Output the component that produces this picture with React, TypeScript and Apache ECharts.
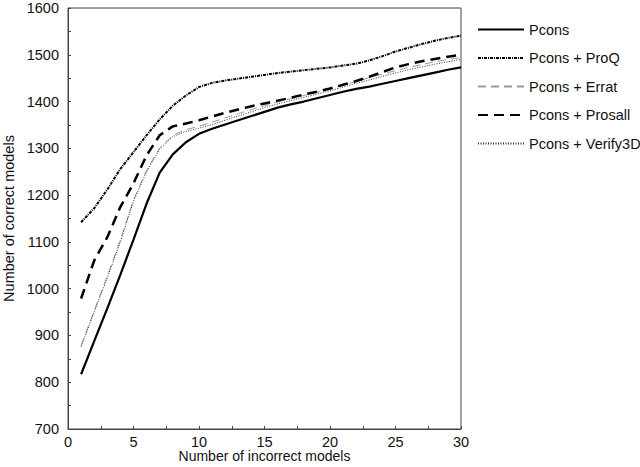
import React, { useEffect, useRef } from "react";
import * as echarts from "echarts";

const xValues = [1,2,3,4,5,6,7,8,9,10,11,12,13,14,15,16,17,18,19,20,21,22,23,24,25,26,27,28,29,30];
const pcons = [817,888,958,1030,1105,1182,1248,1287,1313,1331,1342,1351,1360,1369,1378,1387,1394,1400,1407,1414,1421,1427,1432,1438,1444,1450,1456,1462,1468,1473];
const proq = [1142,1172,1212,1256,1292,1328,1362,1391,1413,1431,1440,1445,1449,1453,1457,1461,1464,1467,1470,1473,1477,1481,1488,1497,1507,1515,1523,1530,1536,1541];
const errat = [878,953,1027,1104,1190,1253,1301,1328,1340,1347,1356,1365,1374,1383,1391,1399,1406,1413,1420,1427,1435,1443,1451,1459,1466,1473,1479,1485,1490,1494];
const prosall = [979,1060,1110,1175,1225,1285,1328,1347,1353,1360,1368,1376,1383,1390,1396,1402,1408,1415,1421,1428,1436,1444,1453,1463,1473,1480,1486,1491,1496,1500];
const verify3d = [876,950,1023,1100,1187,1250,1298,1325,1336,1343,1351,1360,1369,1378,1387,1395,1402,1409,1416,1423,1431,1439,1446,1454,1461,1468,1474,1480,1485,1490];
const seriesNames = ["Pcons", "Pcons + ProQ", "Pcons + Errat", "Pcons + Prosall", "Pcons + Verify3D"];

const pair = (ys: number[]) => xValues.map((x, i) => [x, ys[i]]);

export default function App() {
  const ref = useRef<HTMLDivElement>(null);
  useEffect(() => {
    document.body.style.margin = "0";
    const chart = echarts.init(ref.current!, null, { renderer: "svg" });
    const font = "Liberation Sans, Arial, sans-serif";
    const mk = (name: string, ys: number[], ls: any) => ({
      name,
      type: "line",
      data: pair(ys),
      symbol: "none",
      smooth: false,
      lineStyle: ls,
      itemStyle: { color: ls.color },
    });
    chart.setOption({
      animation: false,
      backgroundColor: "#fff",
      textStyle: { fontFamily: font },
      grid: {
        left: 68, right: 179, top: 8, bottom: 38,
        outerBoundsMode: "none", containLabel: false,
        show: true, borderColor: "#444", borderWidth: 1,
      },
      legend: {
        orient: "vertical",
        left: 472,
        top: 17,
        itemWidth: 46,
        itemHeight: 14,
        itemGap: 13.5,
        itemStyle: { opacity: 0 },
        textStyle: { fontSize: 14.5, color: "#111", fontFamily: font },
        data: seriesNames,
      },
      xAxis: {
        type: "value",
        min: 0,
        max: 30,
        interval: 2.5,
        name: "Number of incorrect models",
        nameLocation: "middle",
        nameMoveOverlap: false,
        nameGap: 20,
        nameTextStyle: { fontSize: 14, lineHeight: 14, color: "#111", verticalAlign: "top" },
        axisLine: { lineStyle: { color: "#444" } },
        axisTick: { inside: true, length: 3, lineStyle: { color: "#444" } },
        axisLabel: {
          fontSize: 14.5,
          color: "#111",
          margin: 5,
          formatter: (v: number) => (v % 5 === 0 ? String(v) : ""),
        },
        splitLine: { show: false },
      },
      yAxis: {
        type: "value",
        min: 700,
        max: 1600,
        interval: 50,
        name: "Number of correct models",
        nameLocation: "middle",
        nameMoveOverlap: false,
        nameGap: 52,
        nameTextStyle: { fontSize: 14.5, color: "#111" },
        axisLine: { show: true, lineStyle: { color: "#444" } },
        axisTick: { show: true, inside: true, length: 3, lineStyle: { color: "#444" } },
        axisLabel: {
          fontSize: 14.5,
          color: "#111",
          margin: 9,
          formatter: (v: number) => (v % 100 === 0 ? String(v) : ""),
        },
        splitLine: { show: false },
      },
      series: [
        mk(seriesNames[0], pcons, { color: "#000", width: 2.2, type: "solid" }),
        mk(seriesNames[1], proq, { color: "#000", width: 2, type: [3, 1, 1, 1] }),
        mk(seriesNames[2], errat, { color: "#999", width: 1, type: [8, 5] }),
        mk(seriesNames[3], prosall, { color: "#000", width: 2.5, type: [10, 6] }),
        mk(seriesNames[4], verify3d, { color: "#333", width: 1, type: [1, 1.5] }),
      ],
    });
    return () => chart.dispose();
  }, []);
  return <div ref={ref} style={{ width: 640, height: 467 }} />;
}
